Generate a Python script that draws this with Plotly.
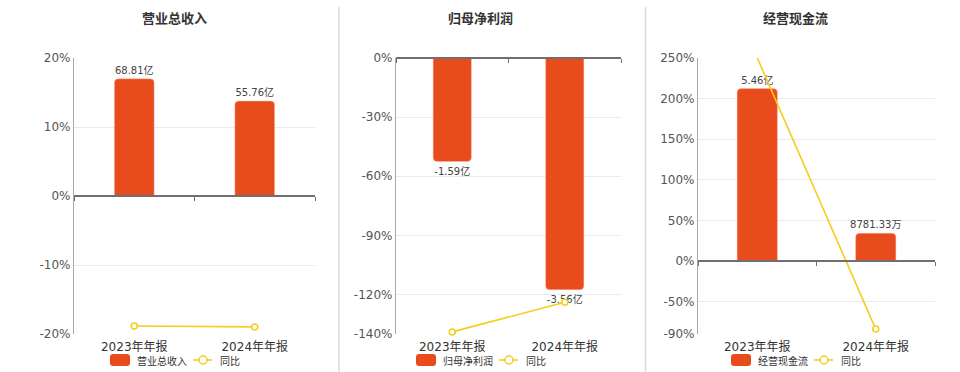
import plotly.graph_objects as go

# ---------------- data ----------------
categories = ["2023年年报", "2024年年报"]

titles = ["营业总收入", "归母净利润", "经营现金流"]

revenue = [68.81, 55.76]                 # 亿
revenue_text = ["68.81亿", "55.76亿"]
revenue_yoy = [-18.84, -18.97]           # %

profit = [-1.59, -3.56]                  # 亿
profit_text = ["-1.59亿", "-3.56亿"]
profit_yoy = [-138.93, -123.90]          # %

cashflow = [5.46, 0.878133]              # 亿
cashflow_text = ["5.46亿", "8781.33万"]
cashflow_yoy = [250.2, -83.92]           # %

yoy_name = "同比"

pct_ticks_1 = [20, 10, 0, -10, -20]
pct_ticks_2 = [0, -30, -60, -90, -120, -140]
pct_ticks_3 = [250, 200, 150, 100, 50, 0, -50, -90]

# ---------------- style / layout ----------------
W, H = 960, 372
BAR_COLOR = "#E84B1C"
LINE_COLOR = "#F5CD1E"
GRID_COLOR = "#E6EBF3"
AXIS_COLOR = "#A8A8A8"
ZERO_COLOR = "#6E6E73"
TXT = "#333333"
FONT = "DejaVu Sans, Noto Sans CJK SC, sans-serif"
CJK = "Noto Sans CJK SC, sans-serif"

panels = [
    dict(vals=revenue, text=revenue_text, yoy=revenue_yoy, ticks=pct_ticks_1,
         xpx=(74, 315), pct=(-20, 20), bar=(-81.0, 81.0), width=0.33,
         title_x=174, legend_x=110),
    dict(vals=profit, text=profit_text, yoy=profit_yoy, ticks=pct_ticks_2,
         xpx=(396, 621), pct=(-140, 0), bar=(-4.24, 0.0), width=0.34,
         title_x=480, legend_x=416),
    dict(vals=cashflow, text=cashflow_text, yoy=cashflow_yoy, ticks=pct_ticks_3,
         xpx=(698, 935), pct=(-90, 250), bar=(-2.315, 6.43), width=0.34,
         title_x=795, legend_x=731),
]

ytop, ybot = 58, 334
ydom = [1 - ybot / H, 1 - ytop / H]

fig = go.Figure()
layout = dict(
    width=W, height=H,
    margin=dict(l=0, r=0, t=0, b=0, pad=0),
    paper_bgcolor="white", plot_bgcolor="white",
    showlegend=False,
    barcornerradius=4,
    font=dict(family=FONT, color=TXT),
)
shapes = []
annotations = []


def X(v):
    return v / W


def Y(v):
    return 1 - v / H


for i, p in enumerate(panels):
    bx = i + 1          # base axes (bars, category labels)
    ox = i + 4          # overlay axes (line, percent ticks, zero axis)
    bxs = "" if bx == 1 else str(bx)
    oxs = str(ox)
    xdom = [p["xpx"][0] / W, p["xpx"][1] / W]

    fig.add_trace(go.Bar(
        x=categories, y=p["vals"], text=p["text"],
        textposition="outside", cliponaxis=False, constraintext="none",
        textfont=dict(family=FONT, size=10, color="#444444"),
        marker=dict(color=BAR_COLOR, line=dict(color="rgba(255,190,170,0.6)", width=0.8)),
        width=p["width"], name=titles[i],
        xaxis="x" + bxs, yaxis="y" + bxs, hoverinfo="skip",
    ))
    fig.add_trace(go.Scatter(
        x=categories, y=p["yoy"], mode="lines+markers", name=yoy_name,
        line=dict(color=LINE_COLOR, width=1.6),
        marker=dict(symbol="circle", size=6, color="white",
                    line=dict(color=LINE_COLOR, width=1.5)),
        cliponaxis=False,
        xaxis="x" + oxs, yaxis="y" + oxs, hoverinfo="skip",
    ))

    lo, hi = p["pct"]
    zero_frac = ydom[0] + (0 - lo) / (hi - lo) * (ydom[1] - ydom[0])

    layout["xaxis" + bxs] = dict(
        domain=xdom, anchor="y" + bxs, type="category", automargin=False,
        range=[-0.5, 1.5], showline=False, showgrid=False, zeroline=False,
        ticks="", ticklabelstandoff=4,
        tickfont=dict(family=FONT, size=12, color=TXT),
    )
    layout["yaxis" + bxs] = dict(
        domain=ydom, anchor="x" + bxs, range=list(p["bar"]), automargin=False,
        showline=False, showgrid=False, zeroline=False,
        showticklabels=False, ticks="",
    )
    layout["xaxis" + oxs] = dict(
        overlaying="x" + bxs, anchor="free", position=zero_frac,
        type="category", range=[-0.5, 1.5], automargin=False,
        showline=True, linecolor=ZERO_COLOR, linewidth=1.5,
        ticks="outside", tickson="boundaries", ticklen=4,
        tickcolor=ZERO_COLOR, tickwidth=1,
        showticklabels=False, showgrid=False, zeroline=False,
    )
    layout["yaxis" + oxs] = dict(
        overlaying="y" + bxs, anchor="x" + oxs, side="left", automargin=False,
        range=[lo, hi], tickmode="array", tickvals=p["ticks"],
        ticktext=[f"{v}%" for v in p["ticks"]],
        showline=True, linecolor=AXIS_COLOR, linewidth=1.2,
        showgrid=True, gridcolor=GRID_COLOR, gridwidth=1,
        zeroline=False, ticks="",
        tickfont=dict(family=FONT, size=12, color="#555555"),
    )

    # title
    annotations.append(dict(
        x=X(p["title_x"]), y=Y(18), xref="paper", yref="paper",
        text="<b>" + titles[i] + "</b>", showarrow=False,
        font=dict(family=CJK, size=13, color=TXT),
        xanchor="center", yanchor="middle",
    ))

    # legend (manual)
    lx = p["legend_x"]
    ly = 360
    r = 3
    x0, x1, y0, y1 = lx, lx + 20, ly - 6, ly + 6
    path = (f"M {X(x0 + r)} {Y(y0)} L {X(x1 - r)} {Y(y0)} "
            f"Q {X(x1)} {Y(y0)} {X(x1)} {Y(y0 + r)} L {X(x1)} {Y(y1 - r)} "
            f"Q {X(x1)} {Y(y1)} {X(x1 - r)} {Y(y1)} L {X(x0 + r)} {Y(y1)} "
            f"Q {X(x0)} {Y(y1)} {X(x0)} {Y(y1 - r)} L {X(x0)} {Y(y0 + r)} "
            f"Q {X(x0)} {Y(y0)} {X(x0 + r)} {Y(y0)} Z")
    shapes.append(dict(type="path", xref="paper", yref="paper", path=path,
                       fillcolor=BAR_COLOR, line=dict(width=0)))
    annotations.append(dict(
        x=X(lx + 25), y=Y(ly), xref="paper", yref="paper", text=titles[i],
        showarrow=False, xanchor="left", yanchor="middle",
        font=dict(family=CJK, size=10, color=TXT),
    ))
    shapes.append(dict(type="line", xref="paper", yref="paper",
                       x0=X(lx + 83), x1=X(lx + 102), y0=Y(ly), y1=Y(ly),
                       line=dict(color=LINE_COLOR, width=1.6)))
    shapes.append(dict(type="circle", xref="paper", yref="paper",
                       x0=X(lx + 89), x1=X(lx + 97), y0=Y(ly - 4), y1=Y(ly + 4),
                       fillcolor="white", line=dict(color=LINE_COLOR, width=1.5)))
    annotations.append(dict(
        x=X(lx + 108), y=Y(ly), xref="paper", yref="paper", text=yoy_name,
        showarrow=False, xanchor="left", yanchor="middle",
        font=dict(family=CJK, size=10, color=TXT),
    ))

# panel separators
for sx in (339, 645.5):
    shapes.append(dict(type="line", xref="paper", yref="paper",
                       x0=X(sx), x1=X(sx), y0=Y(7), y1=0,
                       line=dict(color="#DADADA", width=1.5)))

layout["shapes"] = shapes
layout["annotations"] = annotations
fig.update_layout(**layout)

fig.write_html(
    "out.html",
    config={"displayModeBar": False},
    post_script="document.body.style.margin='0';document.body.style.overflow='hidden';",
)
